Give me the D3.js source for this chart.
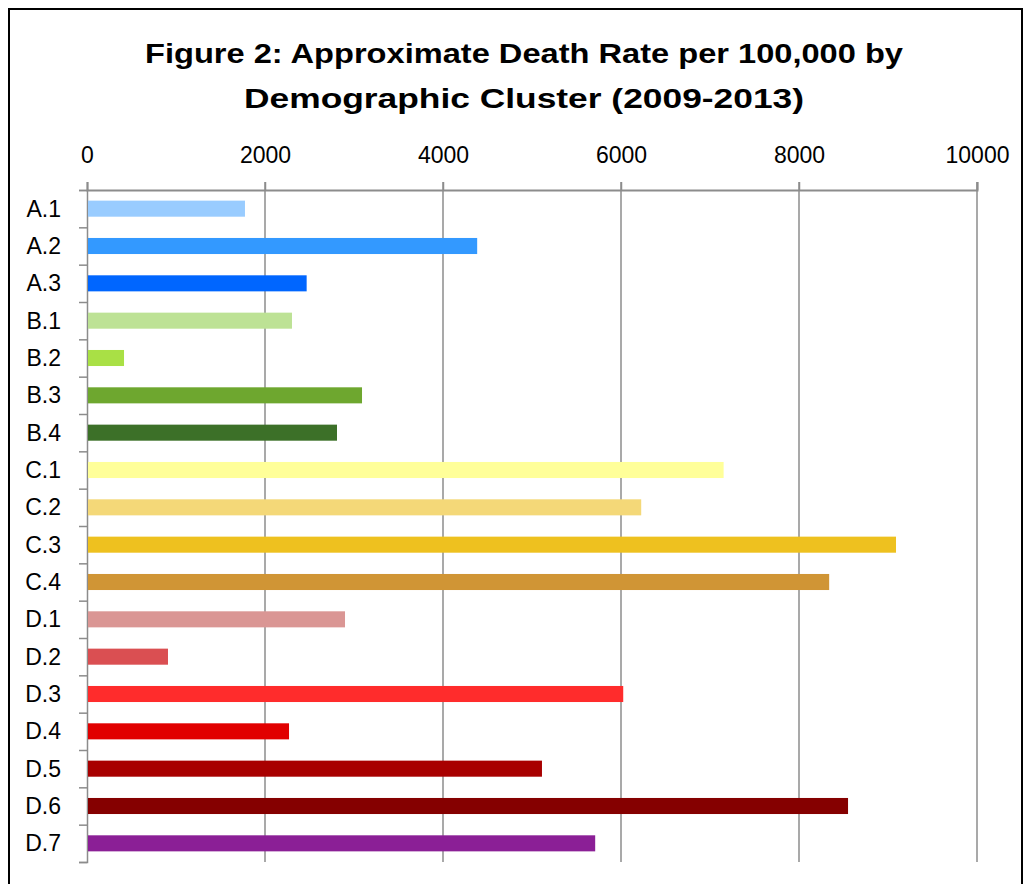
<!DOCTYPE html>
<html>
<head>
<meta charset="utf-8">
<script src="https://cdn.jsdelivr.net/npm/d3@7"></script>
<style>
  body { margin: 0; background: #fff; }
  svg { display: block; }
</style>
</head>
<body>
<svg width="1027" height="884"></svg>
<script>
// values
const categories = ["A.1", "A.2", "A.3", "B.1", "B.2", "B.3", "B.4",
    "C.1", "C.2", "C.3", "C.4",
    "D.1", "D.2", "D.3", "D.4", "D.5", "D.6", "D.7"];
const deathRates = [1775, 4384, 2468, 2303, 416, 3090, 2809,
    7153, 6227, 9090, 8339,
    2899, 910, 6025, 2270, 5112, 8551, 5710];
const barColors = ["#99ccff", "#3399ff", "#0066ff", "#bde295", "#a9e045", "#6ea72f", "#3c7028",
    "#ffff99", "#f4d878", "#eec11f", "#d09535",
    "#da9694", "#da4f52", "#ff2c2c", "#e10000", "#a80000", "#850000", "#8b1f96"];
const xTicks = [0, 2000, 4000, 6000, 8000, 10000];
const titleLines = ["Figure 2: Approximate Death Rate per 100,000 by",
    "Demographic Cluster (2009-2013)"];

const font = "'Liberation Sans', Arial, sans-serif";
const svg = d3.select("svg");

let attr_area = {
    left: 87,
    right: 977,
    top: 190,
    bottom: 862
};

// outer frame
svg.append("rect")
    .attr("x", 9).attr("y", 9)
    .attr("width", 1013).attr("height", 900)
    .attr("fill", "none")
    .attr("stroke", "#000")
    .attr("stroke-width", 2);

// title
svg.selectAll(".title")
    .data(titleLines)
    .enter()
    .append("text")
    .attr("x", 524)
    .attr("y", (d, i) => 63 + i * 45)
    .attr("text-anchor", "middle")
    .attr("font-family", font)
    .attr("font-weight", "bold")
    .attr("font-size", 28)
    .attr("textLength", (d, i) => i === 0 ? 758 : 560)
    .attr("lengthAdjust", "spacingAndGlyphs")
    .text(d => d);

let scaleX = d3.scaleLinear()
    .domain([0, 10000])
    .range([attr_area.left, attr_area.right]);

let scaleY = d3.scaleBand()
    .domain(categories)
    .range([attr_area.top, attr_area.bottom])
    .paddingInner(0.57)
    .paddingOuter(0.285);

// gridlines (with the small stubs above the axis)
svg.append("g")
    .selectAll("line")
    .data(xTicks.slice(1))
    .enter()
    .append("line")
    .attr("x1", d => scaleX(d)).attr("x2", d => scaleX(d))
    .attr("y1", attr_area.top - 8)
    .attr("y2", attr_area.bottom)
    .attr("stroke", "#8c8c8c")
    .attr("stroke-width", 1.5);

// top axis
let axisX = d3.axisTop(scaleX)
    .tickValues(xTicks)
    .tickSize(8)
    .tickPadding(19)
    .tickFormat(d3.format("d"));

let gx = svg.append("g")
    .attr("transform", `translate(0, ${attr_area.top})`)
    .call(axisX);
gx.select(".domain").attr("stroke", "#8c8c8c").attr("stroke-width", 2);
gx.selectAll(".tick line").attr("stroke", "#8c8c8c").attr("stroke-width", 1.5);
gx.selectAll(".tick text")
    .attr("font-family", font)
    .attr("font-size", 23)
    .attr("fill", "#000");

// left axis
let axisY = d3.axisLeft(d3.scaleLinear().domain([0, categories.length]).range([attr_area.top, attr_area.bottom]))
    .tickValues(d3.range(categories.length + 1))
    .tickSize(8)
    .tickFormat("");

let gy = svg.append("g")
    .attr("transform", `translate(${attr_area.left}, 0)`)
    .call(axisY);
gy.select(".domain").attr("stroke", "#8c8c8c").attr("stroke-width", 1.5);
gy.selectAll(".tick line").attr("stroke", "#8c8c8c").attr("stroke-width", 1.5);

// category labels
svg.selectAll(".cat")
    .data(categories)
    .enter()
    .append("text")
    .attr("x", 61)
    .attr("y", d => scaleY(d) + scaleY.bandwidth() / 2)
    .attr("dy", "0.35em")
    .attr("text-anchor", "end")
    .attr("font-family", font)
    .attr("font-size", 23)
    .text(d => d);

// bars
svg.selectAll(".bar")
    .data(categories)
    .enter()
    .append("rect")
    .attr("x", scaleX(0) + 1)
    .attr("y", d => scaleY(d))
    .attr("width", (d, i) => scaleX(deathRates[i]) - scaleX(0) - 1)
    .attr("height", scaleY.bandwidth())
    .style("fill", (d, i) => barColors[i]);
</script>
</body>
</html>
